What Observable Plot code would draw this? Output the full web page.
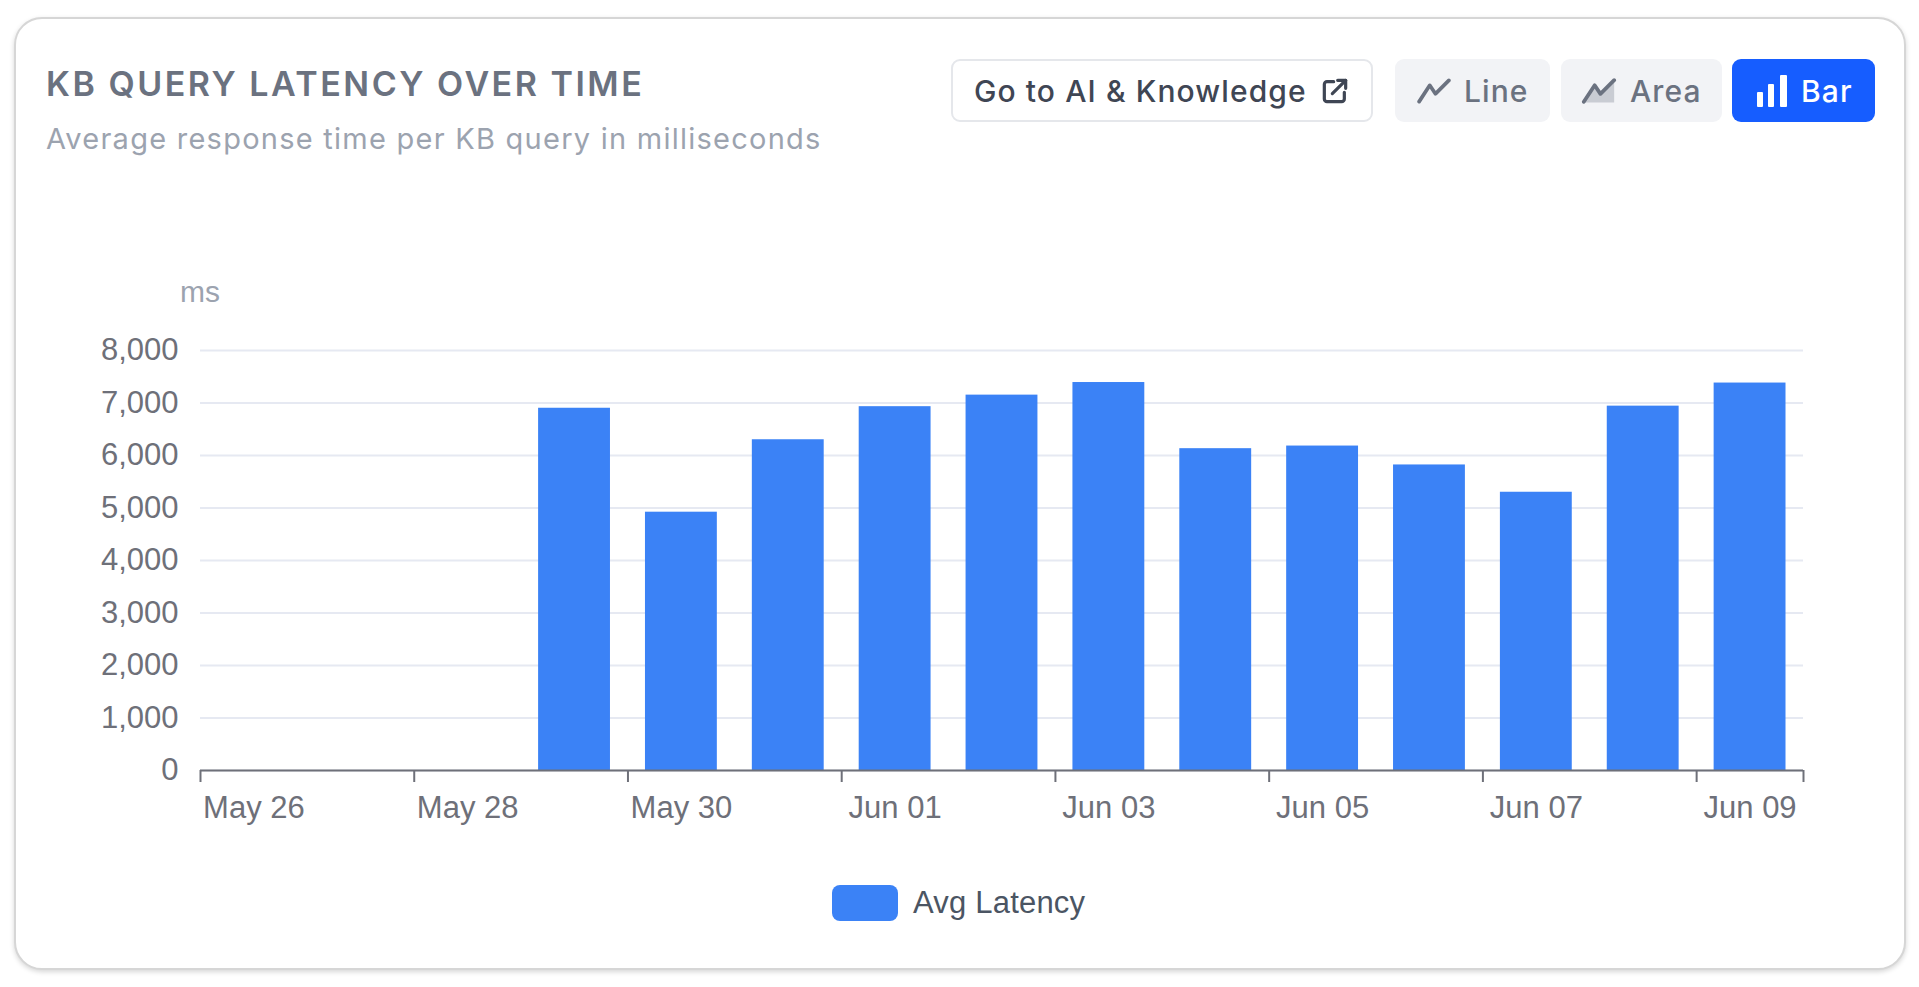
<!DOCTYPE html>
<html>
<head>
<meta charset="utf-8">
<script src="https://cdn.jsdelivr.net/npm/d3@7"></script>
<script src="https://cdn.jsdelivr.net/npm/@observablehq/plot@0.6"></script>
<style>
  html, body { margin: 0; padding: 0; background: #ffffff; }
  body { position: relative; width: 1919px; height: 987px; overflow: hidden; }
  .card { position: absolute; left: 14px; top: 17px; width: 1888px; height: 949px;
    border: 2px solid #d6d6d6; border-radius: 28px; box-shadow: 0 2px 5px rgba(0,0,0,0.16); background: #fff; }
  .title { position: absolute; left: 46px; top: 67px; font-family: Inter, sans-serif; font-weight: 600;
    font-size: 34px; line-height: 34px; letter-spacing: 2.5px; color: #6b7280; white-space: nowrap; }
  .subtitle { position: absolute; left: 46px; top: 124px; font-family: Inter, sans-serif; font-weight: 400;
    font-size: 29px; line-height: 29px; letter-spacing: 1.25px; color: #9ca3af; white-space: nowrap; }
  .btn { position: absolute; top: 59px; height: 63px; box-sizing: border-box; border-radius: 9px;
    display: flex; align-items: center; font-family: Inter, sans-serif; font-weight: 500; font-size: 30px;
    letter-spacing: 1.1px; white-space: nowrap; }
  .btn svg { display: block; }
  .go { left: 951px; width: 422px; background: #fff; border: 2px solid #e5e7eb; color: #3f4654; padding-left: 21px; }
  .line { left: 1395px; width: 155px; background: #f2f3f6; color: #6b7280; padding-left: 22px; }
  .area { left: 1561px; width: 161px; background: #f2f3f6; color: #6b7280; padding-left: 20px; }
  .bar { left: 1732px; width: 143px; background: #165dff; color: #ffffff; padding-left: 24px; }
  .ms { position: absolute; left: 180px; top: 277px; font-family: "Liberation Sans", Arial, sans-serif;
    font-size: 30px; line-height: 30px; color: #9ca3af; }
  #chart { position: absolute; left: 0; top: 320px; }
  .legend-swatch { position: absolute; left: 832px; top: 885px; width: 66px; height: 36px; border-radius: 8px; background: #3b82f6; }
  .legend-text { position: absolute; left: 913px; top: 887px; font-family: "Liberation Sans", Arial, sans-serif;
    font-size: 31px; line-height: 31px; letter-spacing: 0.2px; color: #4b5563; white-space: nowrap; }
</style>
</head>
<body>
<div class="card"></div>
<div class="title">KB QUERY LATENCY OVER TIME</div>
<div class="subtitle">Average response time per KB query in milliseconds</div>

<div class="btn go">Go to AI &amp; Knowledge
  <svg width="32" height="32" viewBox="0 0 24 24" style="margin-left:12px" fill="none" stroke="#3f4654" stroke-width="2.4" stroke-linecap="round" stroke-linejoin="round">
    <path d="M11 5H6a2 2 0 0 0-2 2v11a2 2 0 0 0 2 2h11a2 2 0 0 0 2-2v-5"/>
    <path d="M14 4h6v6"/><path d="M20 4L10 14"/>
  </svg>
</div>
<div class="btn line">
  <svg width="34" height="26" viewBox="0 0 24 18" style="margin-right:13px" fill="none" stroke="#6b7280" stroke-width="2.6" stroke-linecap="round" stroke-linejoin="round">
    <polyline points="1.5,16.5 9,5 13,11 22.5,1.5"/>
  </svg>Line</div>
<div class="btn area">
  <svg width="36" height="26" viewBox="0 0 24 18" style="margin-right:13px" fill="none" stroke="#6b7280" stroke-width="2.6" stroke-linecap="round" stroke-linejoin="round">
    <polygon points="1.5,17 9,5 13,11 22.5,1.5 22.5,17" fill="#c9ccd3" stroke="none"/>
    <polyline points="1.5,16.5 9,5 13,11 22.5,1.5"/>
  </svg>Area</div>
<div class="btn bar">
  <svg width="32" height="32" viewBox="0 0 32 32" style="margin-right:13px" fill="#ffffff">
    <rect x="1" y="17" width="6" height="15" rx="1"/>
    <rect x="12" y="9" width="6" height="23" rx="1"/>
    <rect x="24" y="0" width="7" height="32" rx="1"/>
  </svg>Bar</div>

<div class="ms">ms</div>
<div id="chart"></div>
<div class="legend-swatch"></div>
<div class="legend-text">Avg Latency</div>

<script>
// ---- data ----
const days = ["2025-05-29","2025-05-30","2025-05-31","2025-06-01","2025-06-02","2025-06-03",
              "2025-06-04","2025-06-05","2025-06-06","2025-06-07","2025-06-08","2025-06-09"];
const avgLatency = [6900, 4920, 6300, 6930, 7150, 7390, 6130, 6180, 5820, 5300, 6940, 7380];
const xDomain = ["2025-05-26", "2025-06-10"];
const xTickDays = ["2025-05-26","2025-05-28","2025-05-30","2025-06-01","2025-06-03","2025-06-05","2025-06-07","2025-06-09","2025-06-10"];
const xLabelDays = ["2025-05-26","2025-05-28","2025-05-30","2025-06-01","2025-06-03","2025-06-05","2025-06-07","2025-06-09"];
const yTicks = [0, 1000, 2000, 3000, 4000, 5000, 6000, 7000, 8000];

const DAY = 864e5;
const data = days.map((d, i) => ({ start: new Date(d), end: new Date(+new Date(d) + DAY), value: avgLatency[i] }));
const noon = xLabelDays.map(d => new Date(+new Date(d) + DAY / 2));

const chart = Plot.plot({
  width: 1919,
  height: 520,
  marginLeft: 200,
  marginRight: 116,
  marginTop: 30,
  marginBottom: 70,
  style: { fontFamily: "'Liberation Sans', Arial, sans-serif", fontSize: "31px", color: "#6e7079", background: "transparent", overflow: "visible" },
  x: { type: "utc", domain: xDomain.map(d => new Date(d)) },
  y: { domain: [0, 8000] },
  marks: [
    Plot.gridY(yTicks, { stroke: "#e6e9f2", strokeOpacity: 1, strokeWidth: 2 }),
    Plot.rectY(data, { x1: "start", x2: "end", y: "value", fill: "#3b82f6", insetLeft: 17.5, insetRight: 17.5 }),
    Plot.ruleY([0], { stroke: "#6e7079", strokeWidth: 2 }),
    Plot.axisY({ ticks: yTicks, tickSize: 0, tickPadding: 22, tickFormat: d3.format(","), label: null, fontSize: 31 }),
    Plot.axisX({ ticks: xTickDays.map(d => new Date(d)), tickSize: 12, tickFormat: () => "", label: null, stroke: "#6e7079", strokeWidth: 2 }),
    Plot.axisX({ ticks: noon, tickSize: 0, tickPadding: 25, tickFormat: d3.utcFormat("%b %d"), label: null, fontSize: 31 })
  ]
});
document.getElementById("chart").appendChild(chart);
</script>
</body>
</html>
